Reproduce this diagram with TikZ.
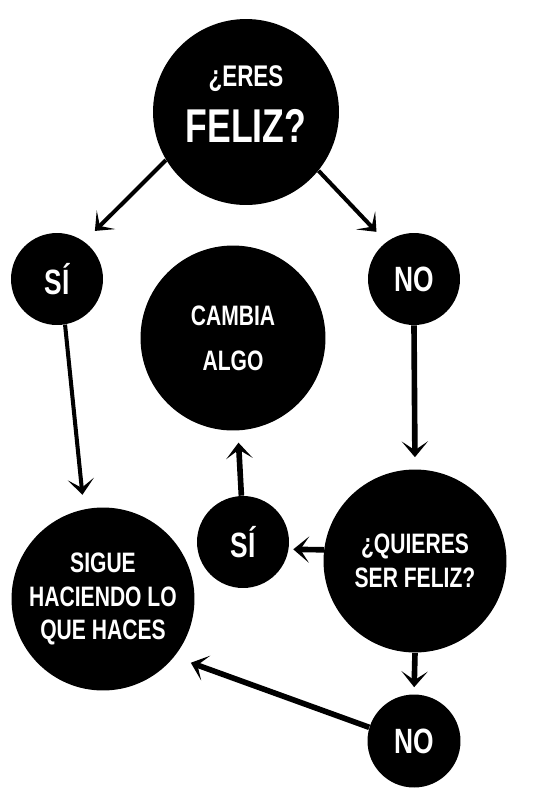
\documentclass[tikz,border=0pt]{standalone}
\usepackage{fontspec}
\setmainfont{Liberation Sans}[FakeStretch=0.75]
\usetikzlibrary{positioning,calc,arrows.meta}

\begin{document}
\begin{tikzpicture}[x=0.02cm,y=-0.02cm,
bubble/.style={circle,fill=black,text=white,inner sep=0pt,align=center},
edge/.style={-{Stealth[length=9pt,width=15pt,inset=5pt]},line width=2.3pt},
fat/.style={line width=3.2pt}]

\useasboundingbox (0,0) rectangle (539,805);

% nodes
\node[bubble,minimum size=3.72cm,text depth=0.32cm,font=\bfseries\fontsize{27}{32}\selectfont](eres) at (246,112){{\fontsize{17}{20}\selectfont ¿ERES}\\FELIZ?};
\node[bubble,minimum size=1.84cm,font=\bfseries\fontsize{20}{24}\selectfont](siA) at (57,279){SÍ};
\node[bubble,minimum size=1.84cm,font=\bfseries\fontsize{20}{24}\selectfont](noA) at (414,279){NO};
\node[bubble,minimum size=3.7cm,font=\bfseries\fontsize{16}{25.5}\selectfont](cambia) at (233,338){CAMBIA\\ALGO};

\node[bubble,minimum size=3.66cm,font=\bfseries\fontsize{16}{19}\selectfont](quieres) at (415,561){¿QUIERES\\SER FELIZ?};
\node[bubble,minimum size=1.84cm,font=\bfseries\fontsize{20}{24}\selectfont](siB) at (243,542){SÍ};
\node[bubble,minimum size=3.66cm,font=\bfseries\fontsize{16}{19}\selectfont](sigue) at (103,599){SIGUE\\HACIENDO LO\\QUE HACES};
\node[bubble,minimum size=1.86cm,font=\bfseries\fontsize{20}{24}\selectfont](noB) at (414,741){NO};

% arrows
\draw[edge,shorten >=0.3cm] (eres.211) -- (siA.54);
\draw[edge,shorten >=0.28cm] (eres.321) -- (noA.127);
\draw[edge,shorten >=0.29cm] (siA.280) -- (sigue.102);
\draw[edge,fat,shorten >=0.24cm] (noA.south) -- (quieres.north);
\draw[edge,fat,shorten >=0.09cm] (quieres.173) -- (siB.-9);
\draw[edge,fat,shorten >=0.24cm] (siB.92) -- (cambia.-87);
\draw[edge,fat,shorten >=0.14cm] (quieres.south) -- (noB.north);
\draw[edge,fat,shorten >=0.35cm] (noB.163) -- (sigue.-39);

\end{tikzpicture}
\end{document}
